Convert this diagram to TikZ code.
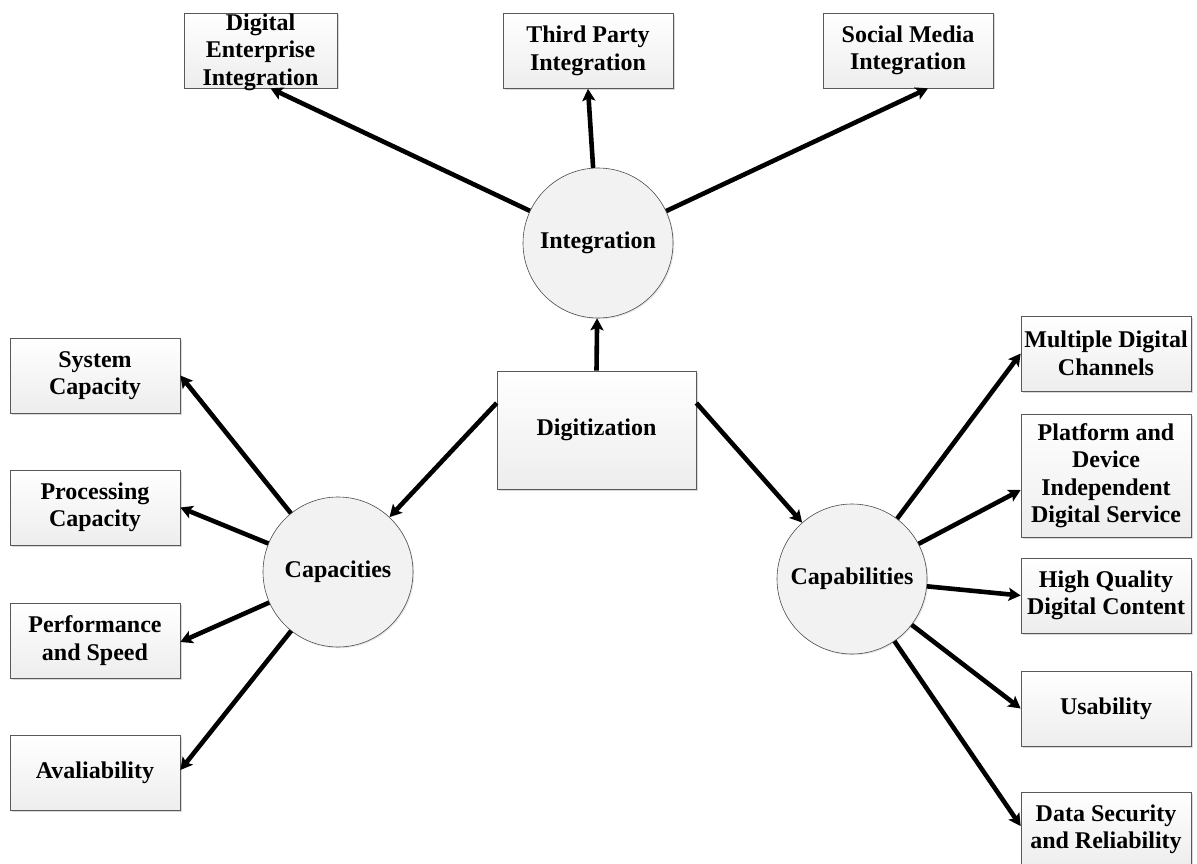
\documentclass[tikz,border=0pt]{standalone}
\usepackage{fontspec}
\setmainfont{Liberation Serif}
\usetikzlibrary{arrows.meta,shadows}
\begin{document}
\begin{tikzpicture}[x=1pt,y=-1pt,
  txt/.style={font=\bfseries\fontsize{24}{27.5}\selectfont, align=center, inner sep=0pt},
  box/.style={txt, rectangle, draw=gray!70!black, line width=0.7pt,
    top color=white, bottom color=gray!14,
    minimum width=170pt, minimum height=75pt,
    drop shadow={shadow xshift=1.5pt, shadow yshift=-1.5pt, opacity=0.3, fill=gray}},
  hub/.style={txt, circle, draw=gray!60!black, line width=0.6pt, fill=gray!10,
    minimum size=150pt,
    drop shadow={shadow xshift=1.2pt, shadow yshift=-1.2pt, opacity=0.2, fill=gray}},
  arr/.style={line width=4.6pt, -{Stealth[length=12pt,width=13pt,inset=2.5pt]}}
]
\useasboundingbox (0,0) rectangle (1197,864);
\clip (0,0) rectangle (1197,864);

% central box
\node[box, minimum width=199pt, minimum height=118pt] (digit) at (596.5,430) {Digitization};

% three hubs
\node[hub] (integ) at (598,243) {Integration};
\node[hub] (capac) at (338,572) {Capacities};
\node[hub] (capab) at (852,579) {Capabilities};

% integration targets; the three-line caption overflows its box
\node[box, minimum width=153pt,
      label={[txt, yshift=-1.5pt, fill=none]center:{Digital\\Enterprise\\Integration}}]
      (dei) at (260.5,50.5) {};
\node[box] (tpi) at (588,51) {Third Party\\Integration};
\node[box] (smi) at (908,50.5) {Social Media\\Integration};

% capacity targets
\node[box] (sys) at (95,375.5) {System\\Capacity};
\node[box] (proc) at (95,507.5) {Processing\\Capacity};
\node[box] (perf) at (95,640.5) {Performance\\and Speed};
\node[box] (avail) at (95,773) {Avaliability};

% capability targets
\node[box] (mdc) at (1106,353.5) {Multiple Digital\\Channels};
\node[box, minimum height=123pt] (pds) at (1106,475.5) {Platform and\\Device\\Independent\\Digital Service};
\node[box] (hq) at (1106,595.5) {High Quality\\Digital Content};
\node[box] (use) at (1106,708.5) {Usability};
\node[box] (dsr) at (1106,829.5) {Data Security\\and Reliability};

% connectors
\draw[arr] (digit.north) -- (integ);
\draw[arr] ([yshift=27pt]digit.west) -- (capac);
\draw[arr] ([yshift=27pt]digit.east) -- (capab);

\draw[arr] (integ) -- ([xshift=10pt]dei.south);
\draw[arr] (integ) -- (tpi.south);
\draw[arr] (integ) -- ([xshift=20pt]smi.south);

\draw[arr] (capac) -- (sys.east);
\draw[arr] (capac) -- (proc.east);
\draw[arr] (capac) -- ([yshift=-1.5pt]perf.east);
\draw[arr] (capac) -- ([yshift=3pt]avail.east);

\draw[arr] (capab) -- (mdc.west);
\draw[arr] (capab) -- ([yshift=-14.5pt]pds.west);
\draw[arr] (capab) -- (hq.west);
\draw[arr] (capab) -- (use.west);
\draw[arr] (capab) -- ([yshift=3.5pt]dsr.west);
\end{tikzpicture}
\end{document}
